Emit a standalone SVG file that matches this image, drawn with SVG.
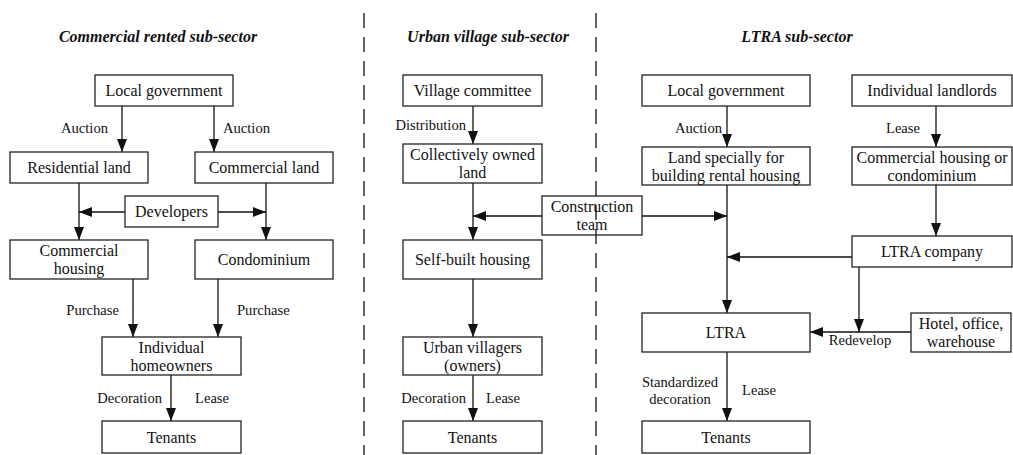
<svg xmlns="http://www.w3.org/2000/svg" width="1013" height="455" viewBox="0 0 1013 455" font-family="'Liberation Serif', 'Times New Roman', 'DejaVu Serif', serif">
<defs>
<marker id="ah" markerUnits="userSpaceOnUse" markerWidth="13" markerHeight="10" refX="13" refY="5" orient="auto">
<path d="M0,0 L13,5 L0,10 z" fill="#111"/>
</marker>
<style>
text{fill:#111}
.t{font-size:16px;text-anchor:middle}
.l{font-size:14.6px}
.h{font-size:16px;font-weight:bold;font-style:italic;text-anchor:middle}
rect{fill:#fff;stroke:#222;stroke-width:1.3}
.c line{stroke:#111;stroke-width:1.3;fill:none}
.a{marker-end:url(#ah)}
.d{stroke:#111;stroke-width:1.3;stroke-dasharray:15 9}
.e{text-anchor:end}
.m{text-anchor:middle}
</style>
</defs>
<rect x="0" y="0" width="1013" height="455" style="fill:#fff;stroke:none"/>
<g id="dividers">
<line class="d" x1="364" y1="13" x2="364" y2="455"/>
<line class="d" x1="596" y1="13" x2="596" y2="455"/>
</g>
<g id="titles">
<text class="h" x="158" y="42">Commercial rented sub-sector</text>
<text class="h" x="488" y="42">Urban village sub-sector</text>
<text class="h" x="797" y="42">LTRA sub-sector</text>
</g>
<g class="c" id="connectors">
<line class="a" x1="122" y1="106" x2="122" y2="152"/>
<line class="a" x1="214" y1="106" x2="214" y2="152"/>
<line class="a" x1="79" y1="183" x2="79" y2="240"/>
<line class="a" x1="266" y1="183" x2="266" y2="240"/>
<line class="a" x1="125" y1="212" x2="79" y2="212"/>
<line class="a" x1="218" y1="212" x2="266" y2="212"/>
<line class="a" x1="133" y1="279" x2="133" y2="337"/>
<line class="a" x1="218" y1="279" x2="218" y2="337"/>
<line class="a" x1="171" y1="375" x2="171" y2="421"/>
<line class="a" x1="473" y1="106" x2="473" y2="144"/>
<line class="a" x1="473" y1="183" x2="473" y2="240"/>
<line class="a" x1="542" y1="216" x2="473" y2="216"/>
<line class="a" x1="642" y1="216" x2="727" y2="216"/>
<line class="a" x1="473" y1="279" x2="473" y2="337"/>
<line class="a" x1="473" y1="375" x2="473" y2="421"/>
<line class="a" x1="727" y1="106" x2="727" y2="147"/>
<line class="a" x1="936" y1="106" x2="936" y2="147"/>
<line class="a" x1="936" y1="185" x2="936" y2="236"/>
<line class="a" x1="852" y1="257" x2="727" y2="257"/>
<line class="a" x1="727" y1="185" x2="727" y2="313"/>
<line class="a" x1="859" y1="267" x2="859" y2="332"/>
<line class="a" x1="911" y1="332" x2="810" y2="332"/>
<line class="a" x1="727" y1="352" x2="727" y2="421"/>
</g>
<g id="labels">
<text class="l e" x="108" y="133">Auction</text>
<text class="l" x="223" y="133">Auction</text>
<text class="l e" x="119" y="315">Purchase</text>
<text class="l" x="237" y="315">Purchase</text>
<text class="l e" x="162" y="403">Decoration</text>
<text class="l" x="195" y="403">Lease</text>
<text class="l e" x="466" y="130">Distribution</text>
<text class="l e" x="466" y="403">Decoration</text>
<text class="l" x="486" y="403">Lease</text>
<text class="l e" x="722" y="133">Auction</text>
<text class="l e" x="920" y="133">Lease</text>
<text class="l m" x="860" y="345">Redevelop</text>
<text class="l m" x="680" y="387">Standardized</text>
<text class="l m" x="680" y="404">decoration</text>
<text class="l" x="742" y="395">Lease</text>
</g>
<g id="n-lg1"><rect x="95" y="75" width="138" height="31"/><text class="t" x="164" y="96">Local government</text></g>
<g id="n-resland"><rect x="10" y="152" width="138" height="31"/><text class="t" x="79" y="173">Residential land</text></g>
<g id="n-comland"><rect x="195" y="152" width="138" height="31"/><text class="t" x="264" y="173">Commercial land</text></g>
<g id="n-dev"><rect x="125" y="196" width="93" height="31"/><text class="t" x="171.5" y="217">Developers</text></g>
<g id="n-comhousing"><rect x="10" y="240" width="138" height="39"/><text class="t" x="79" y="256">Commercial</text><text class="t" x="79" y="274">housing</text></g>
<g id="n-condo"><rect x="195" y="240" width="138" height="39"/><text class="t" x="264" y="265">Condominium</text></g>
<g id="n-homeowners"><rect x="102" y="337" width="139" height="38"/><text class="t" x="171.5" y="353">Individual</text><text class="t" x="171.5" y="371">homeowners</text></g>
<g id="n-tenants1"><rect x="102" y="421" width="139" height="32"/><text class="t" x="171.5" y="443">Tenants</text></g>
<g id="n-village"><rect x="403" y="75" width="139" height="31"/><text class="t" x="472.5" y="96">Village committee</text></g>
<g id="n-colland"><rect x="403" y="144" width="139" height="39"/><text class="t" x="472.5" y="160">Collectively owned</text><text class="t" x="472.5" y="178">land</text></g>
<g id="n-selfbuilt"><rect x="403" y="240" width="139" height="39"/><text class="t" x="472.5" y="265">Self-built housing</text></g>
<g id="n-villagers"><rect x="403" y="337" width="139" height="38"/><text class="t" x="472.5" y="353">Urban villagers</text><text class="t" x="472.5" y="371">(owners)</text></g>
<g id="n-tenants2"><rect x="403" y="421" width="139" height="32"/><text class="t" x="472.5" y="443">Tenants</text></g>
<g id="n-construction"><rect x="542" y="196" width="100" height="39" style="fill:none"/><text class="t" x="592" y="212">Construction</text><text class="t" x="592" y="230">team</text></g>
<g id="n-lg2"><rect x="642" y="75" width="168" height="31"/><text class="t" x="726" y="96">Local government</text></g>
<g id="n-ltraland"><rect x="642" y="147" width="168" height="38"/><text class="t" x="726" y="163">Land specially for</text><text class="t" x="726" y="181">building rental housing</text></g>
<g id="n-landlords"><rect x="852" y="75" width="160" height="31"/><text class="t" x="932" y="96">Individual landlords</text></g>
<g id="n-chc"><rect x="852" y="147" width="160" height="38"/><text class="t" x="932" y="163">Commercial housing or</text><text class="t" x="932" y="181">condominium</text></g>
<g id="n-ltracompany"><rect x="852" y="236" width="160" height="31"/><text class="t" x="932" y="257">LTRA company</text></g>
<g id="n-ltra"><rect x="642" y="313" width="168" height="39"/><text class="t" x="726" y="338">LTRA</text></g>
<g id="n-hotel"><rect x="911" y="313" width="100" height="39"/><text class="t" x="961" y="329">Hotel, office,</text><text class="t" x="961" y="347">warehouse</text></g>
<g id="n-tenants3"><rect x="642" y="421" width="168" height="32"/><text class="t" x="726" y="443">Tenants</text></g>
</svg>
